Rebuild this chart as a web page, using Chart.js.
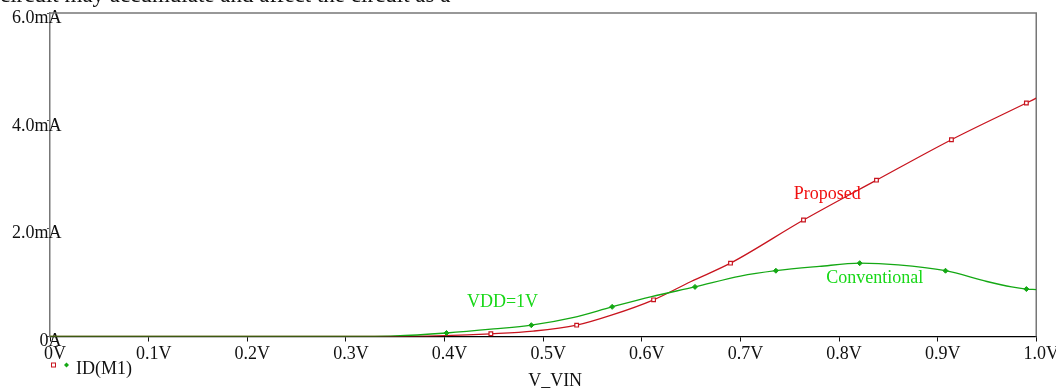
<!DOCTYPE html>
<html>
<head>
<meta charset="utf-8">
<script src="https://cdn.jsdelivr.net/npm/chart.js@4.4.1/dist/chart.umd.min.js"></script>
<style>
  html, body { margin: 0; padding: 0; background: #fff; overflow: hidden; }
  #wrap { position: relative; width: 1056px; height: 392px; }
</style>
</head>
<body>
<div id="wrap"><canvas id="c" width="1056" height="392"></canvas></div>
<script>
// Drain current ID(M1) versus input voltage V_VIN (VDD = 1 V)
const xTickLabels = ['0V', '0.1V', '0.2V', '0.3V', '0.4V', '0.5V', '0.6V', '0.7V', '0.8V', '0.9V', '1.0V'];
const yTickLabels = ['0A', '2.0mA', '4.0mA', '6.0mA'];

// Proposed circuit: V_VIN (V) and ID(M1) (mA)
const proposedV = [0, 0.30, 0.36, 0.40, 0.447, 0.49, 0.534, 0.57, 0.612, 0.65, 0.69, 0.764, 0.838, 0.914, 0.990, 1.0];
const proposedI = [0, 0, 0.003, 0.015, 0.05, 0.10, 0.21, 0.40, 0.68, 1.02, 1.36, 2.16, 2.90, 3.65, 4.33, 4.42];
const proposedMarked = [0.447, 0.534, 0.612, 0.69, 0.764, 0.838, 0.914, 0.990];

// Conventional circuit: V_VIN (V) and ID(M1) (mA)
const conventionalV = [0, 0.30, 0.35, 0.402, 0.45, 0.488, 0.53, 0.57, 0.61, 0.654, 0.70, 0.736, 0.78, 0.821, 0.86, 0.908, 0.95, 0.975, 0.99, 1.0];
const conventionalI = [0, 0, 0.01, 0.065, 0.14, 0.21, 0.35, 0.55, 0.74, 0.92, 1.12, 1.22, 1.30, 1.36, 1.33, 1.22, 1.02, 0.92, 0.88, 0.87];
const conventionalMarked = [0.402, 0.488, 0.57, 0.654, 0.736, 0.821, 0.908, 0.990];

const traceName = 'ID(M1)';
const axisTitle = 'V_VIN';
const pageLine = 'circuit may accumulate and affect the circuit as a';

const RED = '#c8141e';
const GREEN = '#14a814';
const FONT = '"Liberation Serif", "DejaVu Serif", serif';

function points(xs, ys) { return xs.map((x, i) => ({ x: x, y: ys[i] })); }
function markerRadius(marked, r) {
  return ctx => {
    const p = ctx.raw;
    return p && marked.some(m => Math.abs(m - p.x) < 1e-9) ? r : 0;
  };
}

// Text labels placed in data coordinates (V, mA)
const notes = [
  { text: 'Proposed', v: 0.754, i: 2.55, color: '#f01010' },
  { text: 'Conventional', v: 0.787, i: 0.99, color: '#18d818' },
  { text: 'VDD=1V', v: 0.4227, i: 0.547, color: '#18d818' }
];

const extras = {
  id: 'extras',
  beforeDatasetsDraw(chart) {
    const { ctx, chartArea: a } = chart;
    ctx.save();
    ctx.strokeStyle = '#777';
    ctx.lineWidth = 1.5;
    ctx.beginPath();
    ctx.moveTo(a.left, a.top);
    ctx.lineTo(a.right, a.top);
    ctx.lineTo(a.right, a.bottom);
    ctx.stroke();
    ctx.restore();
  },
  afterDraw(chart) {
    const { ctx, chartArea: a, scales } = chart;
    ctx.save();
    // running text of the page above the figure
    ctx.fillStyle = '#111';
    ctx.font = '23px ' + FONT;
    ctx.textBaseline = 'alphabetic';
    ctx.textAlign = 'left';
    ctx.fillText(pageLine, 0, 2);

    // curve annotations
    ctx.font = '18px ' + FONT;
    notes.forEach(n => {
      ctx.fillStyle = n.color;
      ctx.fillText(n.text, scales.x.getPixelForValue(n.v), scales.y.getPixelForValue(n.i));
    });

    // x axis title
    ctx.fillStyle = '#111';
    ctx.textAlign = 'center';
    ctx.textBaseline = 'middle';
    ctx.fillText(axisTitle, (a.left + a.right) / 2 + 12, a.bottom + 45);

    // trace legend: square + diamond symbols, then the trace name
    const ly = a.bottom + 28.5;
    ctx.strokeStyle = RED;
    ctx.lineWidth = 1;
    ctx.strokeRect(a.left + 1.5, ly - 2, 4, 4);
    ctx.fillStyle = GREEN;
    ctx.beginPath();
    const dx = a.left + 16.5;
    ctx.moveTo(dx, ly - 2.5); ctx.lineTo(dx + 2.5, ly); ctx.lineTo(dx, ly + 2.5); ctx.lineTo(dx - 2.5, ly);
    ctx.closePath();
    ctx.fill();
    ctx.fillStyle = '#111';
    ctx.textAlign = 'left';
    ctx.fillText(traceName, a.left + 26, ly + 4);
    ctx.restore();
  }
};

new Chart(document.getElementById('c'), {
  type: 'line',
  data: {
    datasets: [
      {
        label: 'Conventional',
        data: points(conventionalV, conventionalI),
        borderColor: GREEN,
        backgroundColor: GREEN,
        borderWidth: 1.3,
        cubicInterpolationMode: 'monotone',
        pointStyle: 'rectRot',
        pointRadius: markerRadius(conventionalMarked, 2.5),
        pointBorderWidth: 1,
        pointBackgroundColor: GREEN,
        pointBorderColor: GREEN,
        order: 0
      },
      {
        label: 'Proposed',
        data: points(proposedV, proposedI),
        borderColor: RED,
        backgroundColor: RED,
        borderWidth: 1.3,
        cubicInterpolationMode: 'monotone',
        pointStyle: 'rect',
        pointRadius: markerRadius(proposedMarked, 2.6),
        pointBorderWidth: 1.2,
        pointBackgroundColor: '#fff',
        pointBorderColor: RED,
        order: 1
      }
    ]
  },
  options: {
    responsive: false,
    animation: false,
    layout: { padding: { top: 13, right: 10, left: 0, bottom: 0 } },
    plugins: { legend: { display: false }, tooltip: { enabled: false } },
    scales: {
      x: {
        type: 'linear',
        min: 0, max: 1,
        afterFit: s => { s.height = 55.5; },
        afterBuildTicks: s => { s.ticks = xTickLabels.map((_, i) => ({ value: i / 10 })); },
        ticks: {
          callback: (v, i) => xTickLabels[i],
          font: { family: FONT, size: 18 },
          color: '#111',
          padding: 2,
          labelOffset: 5,
          maxRotation: 0,
          autoSkip: false
        },
        grid: { drawOnChartArea: false, drawTicks: true, tickLength: 5, color: '#111', lineWidth: 1 },
        border: { display: true, color: '#000', width: 1.3 }
      },
      y: {
        min: 0, max: 6,
        afterFit: s => { s.width = 50; },
        afterBuildTicks: s => { s.ticks = yTickLabels.map((_, i) => ({ value: i * 2 })); },
        ticks: {
          callback: (v, i) => yTickLabels[i],
          font: { family: FONT, size: 18 },
          color: '#111',
          mirror: true,
          crossAlign: 'far',
          padding: -38,
          labelOffset: 5,
          autoSkip: false
        },
        grid: { drawOnChartArea: false, drawTicks: true, tickLength: 3, color: '#555', lineWidth: 1 },
        border: { display: true, color: '#777', width: 1.5 }
      }
    }
  },
  plugins: [extras]
});
</script>
</body>
</html>
